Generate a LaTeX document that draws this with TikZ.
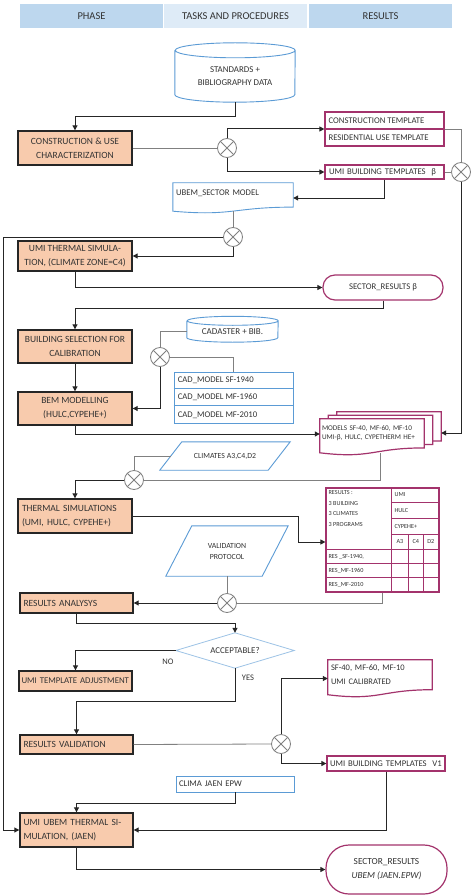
\documentclass[tikz,border=0pt]{standalone}
\usepackage{fontspec}
\setmainfont{Carlito}
\usetikzlibrary{arrows.meta,calc,backgrounds}
\definecolor{orf}{HTML}{F8CBAD}
\definecolor{dk}{HTML}{262626}
\definecolor{tx}{HTML}{333333}
\definecolor{bl}{HTML}{5B9BD5}
\definecolor{lb}{HTML}{9DC3E6}
\definecolor{mg}{HTML}{A3336C}
\definecolor{hd}{HTML}{BDD7EE}
\definecolor{hdb}{HTML}{DEEBF7}
\definecolor{gl}{HTML}{808080}
\newcommand\fsz[2]{\fontsize{#1}{#2}\selectfont}
\newcommand\docout[3]{\draw[#1] ($(#2.north west)+#3$) -- ($(#2.north east)+#3$) -- ($(#2.north east)!0.8!(#2.south east)+#3$) .. controls ($(#2.north)!0.8!(#2.south)+#3$) and ($(#2.north)!1.107!(#2.south)+#3$) .. ($(#2.north west)!0.934!(#2.south west)+#3$) -- cycle;}
\newcommand\cylout[4]{\draw[#1] (#2.north west) -- ($(#2.south west)+(0,-#4)$) arc[start angle=180,end angle=360,x radius=#3pt,y radius=#4pt] -- (#2.north east) arc[start angle=0,end angle=180,x radius=#3pt,y radius=#4pt] arc[start angle=180,end angle=360,x radius=#3pt,y radius=#4pt];}
\newcommand\parout[3]{\draw[#1] (#2.south west) -- ($(#2.north west)+(#3,0)$) -- (#2.north east) -- ($(#2.south east)+(-#3,0)$) -- cycle;}
\begin{document}
\begin{tikzpicture}[x=1pt,y=-1pt,
 every node/.style={inner sep=0pt, text=tx},
 hdr/.style={fill=hd, minimum width=143pt, minimum height=24pt, font=\fsz{10.5}{12}},
 ob/.style={draw=dk, line width=1.4pt, fill=orf, minimum width=114pt, font=\fsz{9.5}{14}, align=center},
 obl/.style={ob, align=left, text width=106pt},
 mbox/.style={draw=mg, line width=1.2pt, fill=white, font=\fsz{8.7}{10}},
 bbox/.style={draw=bl, line width=0.9pt, fill=white, font=\fsz{8.7}{10}},
 txt/.style={font=\fsz{8.7}{10}},
 small/.style={font=\fsz{6.2}{10.5}},
 xc/.style={circle, draw=gl, line width=0.8pt, fill=white, minimum size=19pt,
   path picture={\draw[gl, line width=0.8pt] (path picture bounding box.north west) -- (path picture bounding box.south east) (path picture bounding box.north east) -- (path picture bounding box.south west);}},
 ar/.style={draw=dk, line width=1pt, -{Triangle[length=5pt,width=5pt]}},
 gln/.style={draw=gl, line width=0.8pt},
 bls/.style={draw=bl, line width=0.9pt},
 mgs/.style={draw=mg, line width=1.2pt},
]
\useasboundingbox (0,0) rectangle (474,896);
% headers
\node[hdr] (hp) at (91.5,16) {PHASE};
\node[hdr, fill=hdb] (ht) at (235.5,16) {TASKS AND PROCEDURES};
\node[hdr] (hr) at (380.5,16) {RESULTS};
% nodes
\node[font=\fsz{8.9}{12.7}, align=center, minimum width=120pt, minimum height=51.5pt] (cyl1) at (235,76.25) {STANDARDS +\\BIBLIOGRAPHY DATA};
\node[ob, minimum height=34pt] (con) at (75,148) {CONSTRUCTION \& USE\\CHARACTERIZATION};
\node[xc] (m1) at (227,148) {};
\node[mbox, minimum width=119pt, minimum height=34pt] (ct) at (384.5,129) {};
\node[txt, anchor=west] (ct1) at ($(ct.west)+(4,-8.5)$) {CONSTRUCTION TEMPLATE};
\node[txt, anchor=west] (ct2) at ($(ct.west)+(4,8.5)$) {RESIDENTIAL USE TEMPLATE};
\draw[mgs] (ct.west) -- (ct.east);
\node[mbox, minimum width=119pt, minimum height=14pt, text width=111pt, align=left] (ubt) at (384.5,172) {\mbox{UMI BUILDING TEMPLATES\ \ β}};
\node[xc] (m1r) at (461,172) {};
\node[txt, minimum width=120pt, minimum height=30pt, text width=114pt, align=left] (ubem) at (233,198) {UBEM\_SECTOR MODEL\\\mbox{}};
\node[xc] (m2) at (233,237) {};
\node[ob, minimum height=30pt] (umi1) at (75,256) {UMI THERMAL SIMULA-\\TION, (CLIMATE ZONE=C4)};
\node[mbox, rounded corners=12pt, minimum width=120pt, minimum height=25pt] (sr1) at (383,287.5) {SECTOR\_RESULTS β};
\node[ob, minimum height=33pt] (bsel) at (75,346.5) {BUILDING SELECTION FOR\\CALIBRATION};
\node[ob, minimum height=33pt] (bem) at (75,408.5) {BEM MODELLING\\(HULC,CYPEHE+)};
\node[font=\fsz{9}{10}, minimum width=91pt, minimum height=21pt] (cyl2) at (232.5,331.5) {CADASTER + BIB.};
\node[xc] (m3) at (160,357) {};
\node[bbox, minimum width=119pt, minimum height=51pt] (cad) at (233.5,397.5) {};
\node[txt, anchor=west] (cad1) at ($(cad.north west)+(4,8.5)$) {CAD\_MODEL SF-1940};
\node[txt, anchor=west] (cad2) at ($(cad.west)+(4,0)$) {CAD\_MODEL MF-1960};
\node[txt, anchor=west] (cad3) at ($(cad.south west)+(4,-8.5)$) {CAD\_MODEL MF-2010};
\draw[bls] ($(cad.north west)+(0,17)$) -- ($(cad.north east)+(0,17)$);
\draw[bls] ($(cad.north west)+(0,34)$) -- ($(cad.north east)+(0,34)$);
\node[font=\fsz{7.2}{9}, minimum width=104pt, minimum height=36pt, text width=100pt, align=left] (md) at (372,437) {MODELS SF-40, MF-60, MF-10\\UMI-β, HULC, CYPETHERM HE+\\\mbox{}};
\node[font=\fsz{7.8}{10}, minimum width=130pt, minimum height=28pt] (clim) at (225,456) {CLIMATES A3,C4,D2};
\node[xc] (m4) at (134,480) {};
\node[obl, minimum height=34pt] (ts) at (75,516) {THERMAL SIMULATIONS\\(UMI, HULC, CYPEHE+)};
% results table
\node[mgs, fill=white, minimum width=113pt, minimum height=104pt] (rt) at (382.5,540) {};
\draw[mgs] ($(rt.north west)+(66,0)$) -- ($(rt.south west)+(66,0)$);
\draw[mgs] ($(rt.north west)+(66,15)$) -- ($(rt.north east)+(0,15)$);
\draw[mgs] ($(rt.north west)+(66,31)$) -- ($(rt.north east)+(0,31)$);
\draw[mgs] ($(rt.north west)+(66,47)$) -- ($(rt.north east)+(0,47)$);
\draw[mgs] ($(rt.north west)+(0,62)$) -- ($(rt.north east)+(0,62)$);
\draw[mgs] ($(rt.north west)+(0,76)$) -- ($(rt.north east)+(0,76)$);
\draw[mgs] ($(rt.north west)+(0,90)$) -- ($(rt.north east)+(0,90)$);
\draw[mgs] ($(rt.north west)+(83,47)$) -- ($(rt.south west)+(83,0)$);
\draw[mgs] ($(rt.north west)+(98,47)$) -- ($(rt.south west)+(98,0)$);
\node[small, anchor=north west, align=left] (rtl) at ($(rt.north west)+(3,3)$) {RESULTS :\\3 BUILDING\\3 CLIMATES\\3 PROGRAMS};
\node[small, anchor=west] (rtu) at ($(rt.north west)+(69,7.5)$) {UMI};
\node[small, anchor=west] (rth) at ($(rt.north west)+(69,23)$) {HULC};
\node[small, anchor=west] (rtc) at ($(rt.north west)+(69,39)$) {CYPEHE+};
\node[small] (ra3) at ($(rt.north west)+(74.5,54.5)$) {A3};
\node[small] (rc4) at ($(rt.north west)+(90.5,54.5)$) {C4};
\node[small] (rd2) at ($(rt.north west)+(105.5,54.5)$) {D2};
\node[small, anchor=west] (rr1) at ($(rt.north west)+(3,69)$) {RES \_SF-1940,};
\node[small, anchor=west] (rr2) at ($(rt.north west)+(3,83)$) {RES\_MF-1960};
\node[small, anchor=west] (rr3) at ($(rt.north west)+(3,97)$) {RES\_MF-2010};
% lower part
\node[font=\fsz{7.8}{11}, align=center, minimum width=122pt, minimum height=50pt] (val) at (227,551) {VALIDATION\\PROTOCOL};
\node[xc] (m5) at (227,603) {};
\node[obl, minimum width=113pt, minimum height=20pt] (ra) at (76.5,603) {RESULTS ANALYSYS};
\node[font=\fsz{8.9}{10}, minimum width=118pt, minimum height=35pt] (acc) at (235,650.5) {ACCEPTABLE?};
\node[font=\fsz{8.5}{10}] (no) at (168,662) {NO};
\node[obl, minimum width=113pt, minimum height=20pt, text width=108pt, font=\fsz{8.8}{14}] (uta) at (75.5,681) {\mbox{UMI TEMPLATE ADJUSTMENT}};
\node[font=\fsz{8.5}{10}] (yes) at (248,678) {YES};
\node[obl, minimum width=113pt, minimum height=19pt] (rv) at (76.5,744.5) {RESULTS VALIDATION};
\node[xc] (m6) at (281,744) {};
\node[font=\fsz{8.5}{14}, minimum width=104pt, minimum height=37pt, text width=98pt, align=left] (sf) at (380,678.5) {SF-40, MF-60, MF-10\\UMI CALIBRATED\\[-6pt]\mbox{}};
\node[mbox, minimum width=118pt, minimum height=15pt, text width=112pt, align=left] (v1) at (386,763.5) {\mbox{UMI BUILDING TEMPLATES\ \ V1}};
\node[bbox, minimum width=118pt, minimum height=16pt, text width=112pt, align=left] (clima) at (235,784) {CLIMA JAEN EPW};
\node[obl, minimum width=113pt, minimum height=34pt] (uubem) at (76.5,830) {UMI UBEM THERMAL SI-\\MULATION, (JAEN)};
\node[mbox, rounded corners=23pt, minimum width=121pt, minimum height=49pt, align=center, font=\fsz{9.3}{14}] (sr2) at (386.5,869.5) {SECTOR\_RESULTS\\\textit{UBEM (JAEN.EPW)}};
% outlines
\cylout{bls}{cyl1}{60}{7.5}
\cylout{bls}{cyl2}{45.5}{4.5}
\docout{bls}{ubem}{(0,0)}
\docout{mgs}{sf}{(0,0)}
\parout{bls}{clim}{22}
\parout{bls}{val}{26}
\draw[lb, line width=0.8pt] (acc.north) -- (acc.east) -- (acc.south) -- (acc.west) -- cycle;
\begin{scope}[on background layer]
\fill[white] (0,0) rectangle (474,896);
\docout{mgs,fill=white}{md}{(17,-7)}
\docout{mgs,fill=white}{md}{(8.5,-3.5)}
\docout{mgs,fill=white}{md}{(0,0)}
\end{scope}
% connectors
\draw[ar] (cyl1.south) -- ++(0,14) -| (con.north);
\draw[gln] (con.east) -- (m1.west);
\draw[ar] (m1.north) |- (ct.west);
\draw[ar] (m1.south) |- (ubt.west);
\draw[gln] (ct.east) -| (m1r.north);
\draw[gln] (ubt.east) -- (m1r.west);
\draw[ar] (m1r.south) |- ($(md.east)+(17,-4)$);
\draw[ar] (ubt.south) |- (ubem.east);
\draw[gln] ($(ubem.south)+(0,-2)$) -- (m2.north);
\draw[ar] (m2.west) -| ([xshift=-16pt]uubem.west) -- (uubem.west);
\draw[ar] (m2.south) |- (umi1.east);
\draw[ar] (umi1.south) |- (sr1.west);
\draw[ar] (sr1.south) -- ++(0,8) -| (bsel.north);
\draw[ar] (bsel.south) -- (bem.north);
\draw[gln] (cyl2.west) -| (m3.north);
\draw[gln] (m3.east) -| (cad.north);
\draw[ar] (m3.south) |- (bem.east);
\draw[ar] (bem.south) |- ($(md.west)+(0,-3)$);
\draw[gln] ($(md.south)+(8,-2)$) |- (m4.east);
\draw[gln] (m4.north) |- ($(clim.west)+(11,0)$);
\draw[ar] (m4.west) -| (ts.north);
\draw[ar] (ts.east) -- ++(166,0) |- ($(rt.west)+(0,2)$);
\draw[gln] (val.south) -- (m5.north);
\draw[gln] (rt.south) |- (m5.east);
\draw[ar] (m5.west) -- (ra.east);
\draw[ar] (ra.south) -- ++(0,10) -| (acc.north);
\draw[ar] (acc.west) -| (uta.north);
\draw[ar] (acc.south) -- ++(0,33) -| (rv.north);
\draw[gln] (rv.east) -- (m6.west);
\draw[ar] (m6.north) |- (sf.west);
\draw[ar] (m6.south) |- (v1.west);
\draw[ar] (v1.south) |- (uubem.east);
\draw[ar] (clima.south) -- ++(0,11) -| (uubem.north);
\draw[ar] (uubem.south) |- (sr2.west);
\end{tikzpicture}
\end{document}
